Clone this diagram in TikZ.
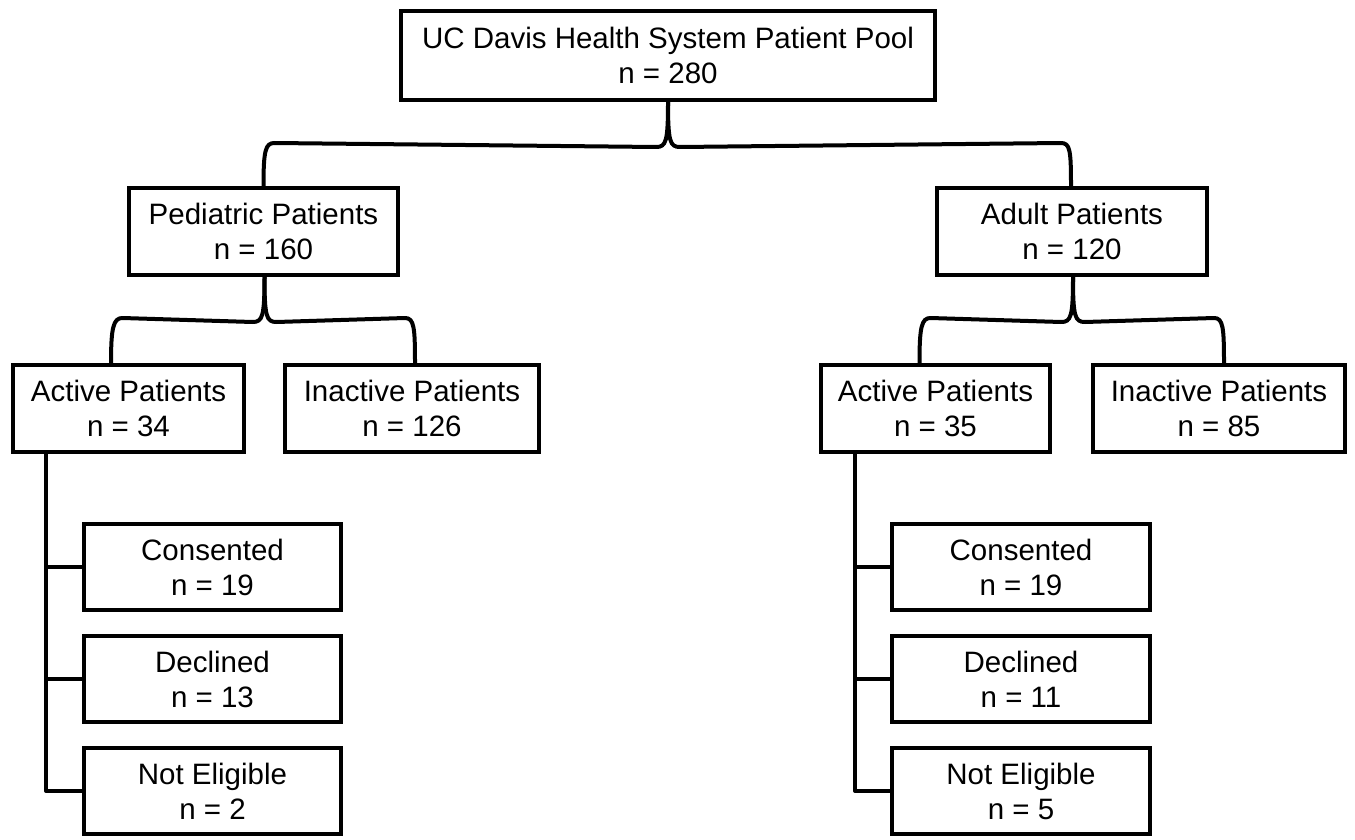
\documentclass[tikz,border=0pt]{standalone}
\usepackage{fontspec}
\setmainfont{Liberation Sans}
\usetikzlibrary{calc}
\tikzset{
  box/.style={draw=black, line width=4pt, fill=white, align=center, inner sep=0pt,
    font=\fontsize{29.5}{35}\selectfont, minimum height=87pt},
  conn/.style={draw=black, line width=4pt, line join=round}
}
\begin{document}
\begin{tikzpicture}[x=1pt,y=-1pt]
\useasboundingbox[fill=white] (0,0) rectangle (1355,840);
% nodes
\node[box, minimum width=534pt, minimum height=89pt] (top) at (668,55.5) {UC Davis Health System Patient Pool\\n = 280};
\node[box, minimum width=269pt] (ped) at (263.5,231.5) {Pediatric Patients\\n = 160};
\node[box, minimum width=270pt] (adult) at (1072,231.5) {Adult Patients\\n = 120};
\node[box, minimum width=231pt] (actP) at (128.5,408.5) {Active Patients\\n = 34};
\node[box, minimum width=254pt] (inP) at (412,408.5) {Inactive Patients\\n = 126};
\node[box, minimum width=229pt] (actA) at (935.5,408.5) {Active Patients\\n = 35};
\node[box, minimum width=252pt] (inA) at (1219,408.5) {Inactive Patients\\n = 85};
\node[box, minimum width=257pt, minimum height=86pt] (consL) at (212.5,567) {Consented\\n = 19};
\node[box, minimum width=257pt, minimum height=86pt] (declL) at (212.5,679) {Declined\\n = 13};
\node[box, minimum width=257pt, minimum height=86pt] (neL) at (212.5,791) {Not Eligible\\n = 2};
\node[box, minimum width=258pt, minimum height=86pt] (consR) at (1021,567) {Consented\\n = 19};
\node[box, minimum width=258pt, minimum height=86pt] (declR) at (1021,679) {Declined\\n = 11};
\node[box, minimum width=258pt, minimum height=86pt] (neR) at (1021,791) {Not Eligible\\n = 5};
\coordinate (vL) at (46,454);
\coordinate (vR) at (855,454);
% top brace
\begin{scope}[on background layer/.try]
\end{scope}
\draw[conn] (top.south) .. controls +(0,40) and +(-10,0) .. ($(top.south)+(12,45)$)
  -- ($(adult.north)+(-11,-43)$) .. controls +(9,0) and +(0,-36) .. ($(adult.north)+(-1,0)$);
\draw[conn] (top.south) .. controls +(0,40) and +(10,0) .. ($(top.south)+(-12,45)$)
  -- ($(ped.north)+(11,-43)$) .. controls +(-9,0) and +(0,-36) .. (ped.north);
% pediatric brace
\draw[conn] ($(ped.south)+(1,0)$) .. controls +(0,40) and +(-10,0) .. ($(ped.south)+(13,45)$)
  -- ($(inP.north)+(-7,-45)$) .. controls +(9,0) and +(0,-36) .. ($(inP.north)+(3,0)$);
\draw[conn] ($(ped.south)+(1,0)$) .. controls +(0,40) and +(10,0) .. ($(ped.south)+(-11,45)$)
  -- ($(actP.north)+(-6,-45)$) .. controls +(-9,0) and +(0,-36) .. ($(actP.north)+(-17.5,0)$);
% adult brace
\draw[conn] ($(adult.south)+(1,0)$) .. controls +(0,40) and +(-10,0) .. ($(adult.south)+(13,45)$)
  -- ($(inA.north)+(-5,-45)$) .. controls +(9,0) and +(0,-36) .. ($(inA.north)+(5,0)$);
\draw[conn] ($(adult.south)+(1,0)$) .. controls +(0,40) and +(10,0) .. ($(adult.south)+(-11,45)$)
  -- ($(actA.north)+(-5,-45)$) .. controls +(-9,0) and +(0,-36) .. ($(actA.north)+(-16,0)$);
% left tree
\draw[conn] (actP.south -| vL) |- (neL.west);
\draw[conn] (vL |- consL.west) -- (consL.west);
\draw[conn] (vL |- declL.west) -- (declL.west);
% right tree
\draw[conn] (actA.south -| vR) |- (neR.west);
\draw[conn] (vR |- consR.west) -- (consR.west);
\draw[conn] (vR |- declR.west) -- (declR.west);
\end{tikzpicture}
\end{document}
